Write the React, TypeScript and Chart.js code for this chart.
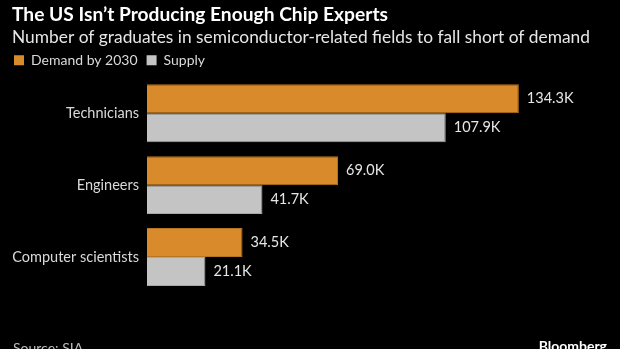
import React, { useEffect, useRef } from "react";
import { Chart, registerables } from "chart.js";

Chart.register(...registerables);

const categories = ["Technicians", "Engineers", "Computer scientists"];
const demand2030 = [134.3, 69.0, 34.5];
const supply = [107.9, 41.7, 21.1];
const seriesNames = ["Demand by 2030", "Supply"];

const TITLE = "The US Isn\u2019t Producing Enough Chip Experts";
const SUBTITLE = "Number of graduates in semiconductor-related fields to fall short of demand";
const SOURCE = "Source: SIA";
const BRAND = "Bloomberg";

const FONT = "Lato, 'Noto Sans', sans-serif";
const ORANGE = "#D98A2B";
const GRAY = "#C4C4C4";

export default function App() {
  const ref = useRef<HTMLCanvasElement | null>(null);
  useEffect(() => {
    document.body.style.margin = "0";
    document.body.style.background = "#000";
    const canvas = ref.current!;
    const valueLabels = {
      id: "valueLabels",
      afterDatasetsDraw(chart: any) {
        const ctx = chart.ctx;
        ctx.save();
        ctx.font = `14.5px ${FONT}`;
        ctx.fillStyle = "#E6E6E6";
        ctx.textBaseline = "middle";
        ctx.textAlign = "left";
        chart.data.datasets.forEach((ds: any, di: number) => {
          const meta = chart.getDatasetMeta(di);
          meta.data.forEach((el: any, i: number) => {
            const v = ds.data[i] as number;
            ctx.fillText(`${v.toFixed(1)}K`, el.x + 8, el.y);
          });
        });
        ctx.restore();
      },
    };
    const footer = {
      id: "footer",
      afterDraw(chart: any) {
        const ctx = chart.ctx;
        ctx.save();
        ctx.textBaseline = "alphabetic";
        ctx.font = `14px ${FONT}`;
        ctx.fillStyle = "#BDBDBD";
        ctx.textAlign = "left";
        ctx.fillText(SOURCE, 13, 353);
        ctx.font = `bold 14px ${FONT}`;
        ctx.fillStyle = "#FFFFFF";
        ctx.textAlign = "right";
        ctx.fillText(BRAND, 607, 351);
        ctx.restore();
      },
    };
    const chart = new Chart(canvas, {
      type: "bar",
      data: {
        labels: categories,
        datasets: [
          {
            label: seriesNames[0],
            data: demand2030,
            backgroundColor: ORANGE,
            borderColor: "#B87420",
            borderWidth: 1,
            barPercentage: 1,
            categoryPercentage: 0.805,
          },
          {
            label: seriesNames[1],
            data: supply,
            backgroundColor: GRAY,
            borderColor: "#A8A8A8",
            borderWidth: 1,
            barPercentage: 1,
            categoryPercentage: 0.805,
          },
        ],
      },
      options: {
        indexAxis: "y",
        animation: false,
        responsive: false,
        maintainAspectRatio: false,
        layout: { padding: { left: 12, right: 30, top: 0, bottom: 56 } },
        scales: {
          x: { display: false, min: 0, max: 160 },
          y: {
            grid: { display: false, drawTicks: false },
            border: { display: false },
            ticks: {
              color: "#DADADA",
              font: { family: FONT, size: 14.5 },
              padding: 8,
            },
            afterFit(scale: any) {
              scale.width = 135;
            },
          },
        },
        plugins: {
          title: {
            display: true,
            text: TITLE,
            align: "start",
            color: "#FFFFFF",
            font: { family: FONT, size: 19.2, weight: "bold", lineHeight: 1.2 },
            padding: { top: 3, bottom: 0 },
          },
          subtitle: {
            display: true,
            text: SUBTITLE,
            align: "start",
            color: "#E6E6E6",
            font: { family: FONT, size: 17.7, lineHeight: 1.2 },
            padding: { top: 1, bottom: 3 },
          },
          legend: {
            display: true,
            align: "start",
            labels: {
              color: "#DADADA",
              font: { family: FONT, size: 14 },
              boxWidth: 10,
              boxHeight: 10,
              padding: 2,
              useBorderRadius: false,
              generateLabels(c: any) {
                const items = Chart.defaults.plugins.legend.labels.generateLabels(c);
                return items.map((it: any, i: number) => ({
                  ...it,
                  text: i < items.length - 1 ? it.text + "\u2002" : it.text,
                  lineWidth: 0,
                }));
              },
            },
          },
          tooltip: { enabled: false },
        },
      },
      plugins: [valueLabels, footer],
    });
    return () => chart.destroy();
  }, []);
  return (
    <div style={{ width: 620, height: 349, background: "#000" }}>
      <canvas ref={ref} width={620} height={349} style={{ display: "block" }} />
    </div>
  );
}
